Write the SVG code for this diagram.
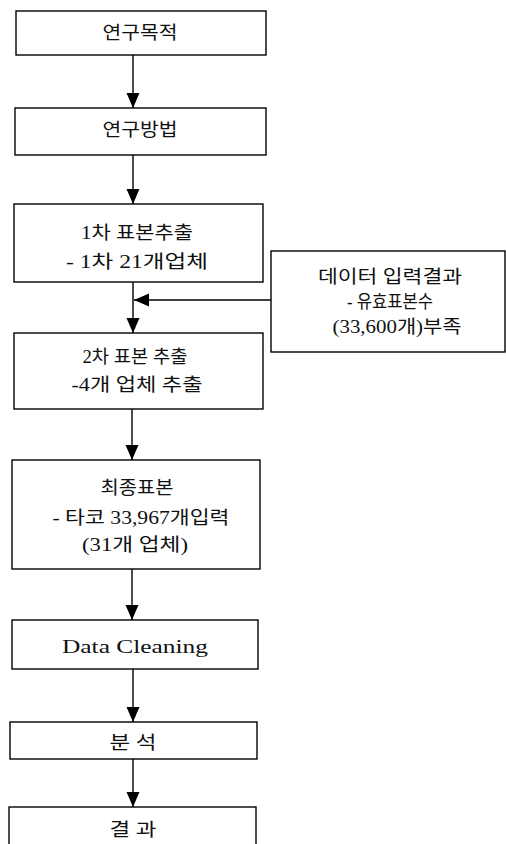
<svg xmlns="http://www.w3.org/2000/svg" width="506" height="844" viewBox="0 0 506 844">
<defs>
<marker id="ah" markerUnits="userSpaceOnUse" markerWidth="16" markerHeight="14" refX="15" refY="6.5" orient="auto">
<path d="M0,0 L15,6.5 L0,13 z" fill="#000"/>
</marker>
<style>
rect{fill:#fff;stroke:#000;stroke-width:1.4}
text{font-family:"Liberation Serif","Noto Sans CJK KR",serif;font-size:18px;fill:#111;text-anchor:middle}
.c line{stroke:#000;stroke-width:1.4;marker-end:url(#ah)}
</style>
</defs>
<rect x="0" y="0" width="506" height="844" style="fill:#fff;stroke:none"/>
<g id="n1"><rect x="16" y="11" width="250" height="44"/><text x="140" y="39" textLength="75" lengthAdjust="spacingAndGlyphs">연구목적</text></g>
<g id="n2"><rect x="15" y="108" width="251" height="47"/><text x="140" y="136" textLength="75" lengthAdjust="spacingAndGlyphs">연구방법</text></g>
<g id="n3"><rect x="14" y="204" width="249" height="78"/><text x="137" y="239" textLength="112" lengthAdjust="spacingAndGlyphs">1차 표본추출</text><text x="137" y="268" textLength="142" lengthAdjust="spacingAndGlyphs">- 1차 21개업체</text></g>
<g id="n9"><rect x="271" y="251" width="234" height="101"/><text x="390" y="283" textLength="144" lengthAdjust="spacingAndGlyphs">데이터 입력결과</text><text x="390" y="308" textLength="86" lengthAdjust="spacingAndGlyphs">- 유효표본수</text><text x="397" y="333" textLength="129" lengthAdjust="spacingAndGlyphs">(33,600개)부족</text></g>
<g id="n4"><rect x="14" y="333" width="249" height="76"/><text x="135" y="363" textLength="105" lengthAdjust="spacingAndGlyphs">2차 표본 추출</text><text x="137" y="391" textLength="131" lengthAdjust="spacingAndGlyphs">-4개 업체 추출</text></g>
<g id="n5"><rect x="12" y="460" width="248" height="109"/><text x="137" y="494" textLength="73" lengthAdjust="spacingAndGlyphs">최종표본</text><text x="141" y="524" textLength="177" lengthAdjust="spacingAndGlyphs">- 타코 33,967개입력</text><text x="135" y="551" textLength="106" lengthAdjust="spacingAndGlyphs">(31개 업체)</text></g>
<g id="n6"><rect x="12" y="620" width="246" height="49"/><text x="135" y="653" textLength="146" lengthAdjust="spacingAndGlyphs">Data Cleaning</text></g>
<g id="n7"><rect x="10" y="722" width="247" height="37"/><text x="133" y="749" textLength="47" lengthAdjust="spacingAndGlyphs">분 석</text></g>
<g id="n8"><rect x="9" y="807" width="247" height="50"/><text x="133" y="836" textLength="47" lengthAdjust="spacingAndGlyphs">결 과</text></g>
<g id="connectors" class="c">
<line x1="133" y1="55" x2="133" y2="108"/>
<line x1="133" y1="155" x2="133" y2="204"/>
<line x1="133" y1="282" x2="133" y2="333"/>
<line x1="271" y1="300" x2="134" y2="300"/>
<line x1="132" y1="409" x2="132" y2="460"/>
<line x1="132" y1="569" x2="132" y2="620"/>
<line x1="133" y1="669" x2="133" y2="722"/>
<line x1="133" y1="759" x2="133" y2="807"/>
</g>
</svg>
